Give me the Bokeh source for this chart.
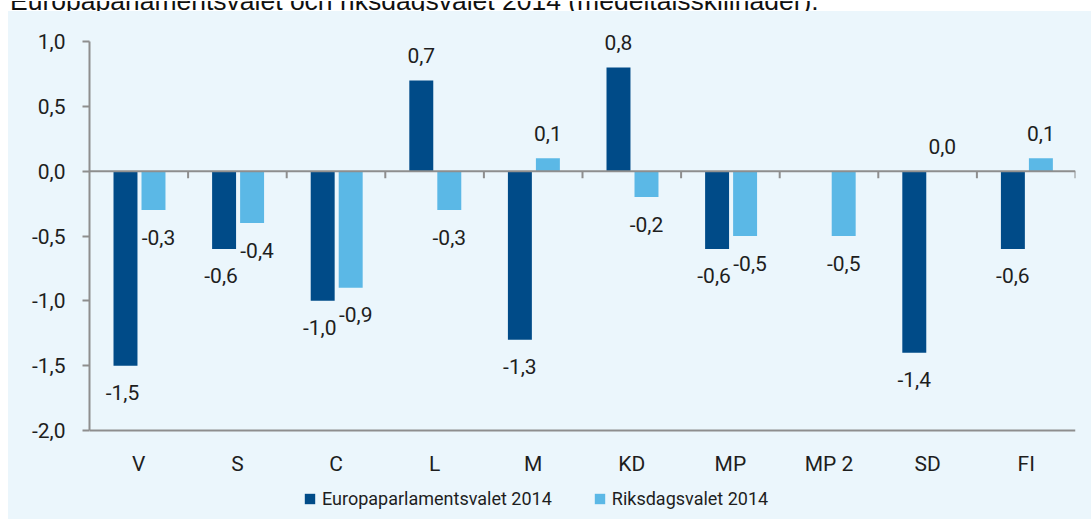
from bokeh.plotting import figure
from bokeh.models import (ColumnDataSource, Span, Legend, LegendItem, FixedTicker,
                          CustomJSTickFormatter, Range1d, Div)
from bokeh.core.properties import value
from bokeh.embed import file_html
from bokeh.resources import INLINE
import math

# ---------------- data ----------------
title_text = "Europaparlamentsvalet och riksdagsvalet 2014 (medeltalsskillnader)."
categories = ["V", "S", "C", "L", "M", "KD", "MP", "MP 2", "SD", "FI"]
europa_2014 = [-1.5, -0.6, -1.0, 0.7, -1.3, 0.8, -0.6, None, -1.4, -0.6]
riksdag_2014 = [-0.3, -0.4, -0.9, -0.3, 0.1, -0.2, -0.5, -0.5, 0.0, 0.1]
series_names = ["Europaparlamentsvalet 2014", "Riksdagsvalet 2014"]
y_ticks = [-2.0, -1.5, -1.0, -0.5, 0.0, 0.5, 1.0]

# ---------------- style ----------------
NARROW = "Roboto, 'Liberation Sans', sans-serif"
REGULAR = "'Liberation Sans', Arial, sans-serif"
PANEL = "#EBF6FC"
DARK = "#004B88"
LIGHT = "#5BB8E6"
GRAY = "#8E8E8E"
TXT = "#1E1E1E"
FS = "21px"

W, H = 1091, 519
TOP_STRIP, LEFT_STRIP = 11, 8
L, R = 89, 16
TOP_TICK = 41            # canvas row of the highest tick
AXIS_BOTTOM = 430        # canvas row of the lowest tick
ymin, ymax = y_ticks[0], y_ticks[-1]
px_per_unit = (AXIS_BOTTOM - TOP_TICK) / (ymax - ymin)
y_start = ymax - (H - TOP_TICK) / px_per_unit   # frame reaches the canvas bottom
y_end = ymax + TOP_TICK / px_per_unit           # and the canvas top

p = figure(width=W, height=H, output_backend="svg", toolbar_location=None,
           x_range=Range1d(0, len(categories)), y_range=Range1d(y_start, y_end),
           x_axis_location=None,
           min_border_left=L, min_border_right=R, min_border_top=0, min_border_bottom=0,
           background_fill_color=PANEL, border_fill_color=PANEL, border_fill_alpha=0,
           outline_line_color=None, margin=0)
p.styles = {"background": (f"linear-gradient(to bottom, white {TOP_STRIP}px, transparent {TOP_STRIP}px), "
                           f"linear-gradient(to right, white {LEFT_STRIP}px, {PANEL} {LEFT_STRIP}px)")}
p.xgrid.visible = False
p.ygrid.visible = False

n = len(categories)
centers = [i + 0.5 for i in range(n)]
off_dark, off_light, bw = -0.135, 0.149, 0.243

# bars
def series_source(vals, other, off, nudge):
    xs, ys, labels, yoff, xoff = [], [], [], [], []
    for c, v, o in zip(centers, vals, other):
        if v is None:
            continue
        xs.append(c + off)
        ys.append(v)
        labels.append(f"{v:.1f}".replace(".", ","))
        yoff.append(27 if v < 0 else -25)
        both_neg = v < 0 and o is not None and o < 0
        xoff.append(nudge if both_neg else 0)
    return ColumnDataSource(dict(x=xs, top=ys, label=labels, yoff=yoff, xoff=xoff))

src_e = series_source(europa_2014, riksdag_2014, off_dark, -3)
src_r = series_source(riksdag_2014, europa_2014, off_light, 5)

r1 = p.vbar(x="x", top="top", bottom=0, width=bw, source=src_e, fill_color=DARK, line_color=None)
r2 = p.vbar(x="x", top="top", bottom=0, width=bw, source=src_r, fill_color=LIGHT, line_color=None)

for src in (src_e, src_r):
    p.text(x="x", y="top", text="label", source=src, y_offset="yoff", x_offset="xoff",
           text_align="center", text_baseline="alphabetic",
           text_font=value(NARROW), text_font_size=FS, text_color=TXT)

# zero line with category boundary ticks, and the bottom line
p.add_layout(Span(location=0, dimension="width", line_color=GRAY, line_width=2))
p.ray(x=list(range(1, n + 1)), y=[0] * n, length=7, length_units="screen",
      angle=-math.pi / 2, line_color=GRAY, line_width=2)
p.segment(x0=[0], y0=[ymin], x1=[n], y1=[ymin], line_color=GRAY, line_width=2)

# category labels
p.text(x=centers, y=[ymin] * n, text=categories, y_offset=33,
       text_align="center", text_baseline="alphabetic",
       text_font=value(NARROW), text_font_size=FS, text_color=TXT)

# y axis
ya = p.yaxis[0]
ya.bounds = (ymin, ymax)
ya.ticker = FixedTicker(ticks=y_ticks)
ya.formatter = CustomJSTickFormatter(code="return tick.toFixed(1).replace('.', ',');")
ya.major_tick_in = 0
ya.major_tick_out = 7
ya.minor_tick_line_color = None
ya.axis_line_color = GRAY
ya.axis_line_width = 2
ya.major_tick_line_color = GRAY
ya.major_tick_line_width = 2
ya.major_label_standoff = 17
ya.major_label_text_font = NARROW
ya.major_label_text_font_size = FS
ya.major_label_text_color = TXT

# legend
legend = Legend(items=[LegendItem(label=series_names[0], renderers=[r1]),
                       LegendItem(label=series_names[1], renderers=[r2])],
                orientation="horizontal", location=(214, 10),
                glyph_width=13, glyph_height=13, label_standoff=6, spacing=41,
                padding=0, margin=0, border_line_alpha=0, background_fill_alpha=0,
                label_text_font=NARROW, label_text_font_size="18px", label_text_color=TXT)
p.add_layout(legend)

# title line of the source document, cut off at the top (overlaid on the top strip)
title_div = Div(
    text=(f'<div style="display:block;position:relative;width:{W}px;height:{TOP_STRIP}px;'
          f'overflow:hidden;background:white;line-height:0;">'
          f'<span style="position:absolute;left:10px;top:-15px;white-space:nowrap;'
          f'font-family:{REGULAR};font-size:26.5px;line-height:30px;color:#111111;">{title_text}</span></div>'),
    width=W, height=TOP_STRIP, margin=0,
    styles={"position": "absolute", "top": "0px", "left": "0px", "overflow": "hidden",
            "background": "white", "z-index": "10"})

open("out.html", "w").write(file_html([p, title_div], INLINE))
